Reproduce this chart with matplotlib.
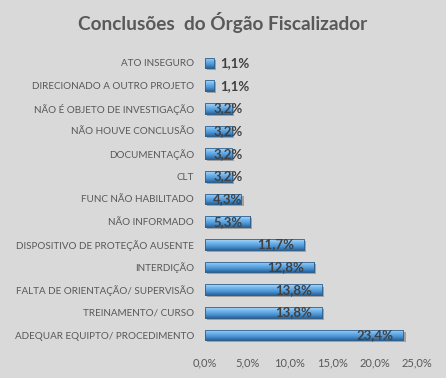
import numpy as np
import matplotlib.pyplot as plt
from matplotlib.colors import LinearSegmentedColormap

categories = ['ATO INSEGURO', 'DIRECIONADO A OUTRO PROJETO', 'NÃO É OBJETO DE INVESTIGAÇÃO',
              'NÃO HOUVE CONCLUSÃO', 'DOCUMENTAÇÃO', 'CLT', 'FUNC NÃO HABILITADO',
              'NÃO INFORMADO', 'DISPOSITIVO DE PROTEÇÃO AUSENTE', 'INTERDIÇÃO',
              'FALTA DE ORIENTAÇÃO/ SUPERVISÃO', 'TREINAMENTO/ CURSO',
              'ADEQUAR EQUIPTO/ PROCEDIMENTO']
values = [1.1, 1.1, 3.2, 3.2, 3.2, 3.2, 4.3, 5.3, 11.7, 12.8, 13.8, 13.8, 23.4]
xticks = [0, 5, 10, 15, 20, 25]

bg = '#d9d9d9'
txt = '#595959'
plt.rcParams['font.family'] = ['Lato', 'DejaVu Sans']

fig = plt.figure(figsize=(4.46, 3.78), dpi=100, facecolor=bg)
ax = fig.add_axes([205 / 446, 0.0837, (417 - 205) / 446, 0.8634 - 0.0837])
ax.set_facecolor(bg)

cmap = LinearSegmentedColormap.from_list('bar', ['#b0d8f7', '#74b7ec', '#4d95d5', '#2c669c'])
grad = np.linspace(0, 1, 64).reshape(-1, 1)

y = np.arange(len(categories))
h = 0.46
# shadow
ax.barh(y + 0.09, values, height=h, left=0.25, color='#a0a0a0', zorder=1)
bars = ax.barh(y, values, height=h, color='#5b9bd5', edgecolor='#2f5f8a', linewidth=0.6, zorder=2)
for b in bars:
    x0, y0 = b.get_x(), b.get_y()
    im = ax.imshow(grad, cmap=cmap, aspect='auto', zorder=3,
                   extent=(x0, x0 + b.get_width(), y0 + b.get_height(), y0))
    im.set_clip_path(b)
    ax.barh(b.get_y() + b.get_height() / 2, b.get_width(), height=h, fill=False,
            edgecolor='#2f5f8a', linewidth=0.6, zorder=4)

for yi, v in zip(y, values):
    lab = f'{v:.1f}%'.replace('.', ',')
    if v < 2:
        ax.annotate(lab, (v, yi), xytext=(4, 0), textcoords='offset points',
                    ha='left', va='center', fontsize=9.5, fontweight='bold', color='#404040', zorder=5)
    elif v * 8.48 - 9 < 38:
        ax.annotate(lab, (0, yi), xytext=(6, 0), textcoords='offset points',
                    ha='left', va='center', fontsize=9.5, fontweight='bold', color='#404040', zorder=5)
    else:
        ax.annotate(lab, (v, yi), xytext=(-7, 0), textcoords='offset points',
                    ha='right', va='center', fontsize=9.5, fontweight='bold', color='#404040', zorder=5)

ax.set_xlim(0, 25)
ax.set_ylim(len(categories) - 0.5, -0.5)
ax.set_yticks(y)
ax.set_yticklabels(categories, fontsize=7.1, color=txt)
ax.set_xticks(xticks)
ax.set_xticklabels([f'{t:.1f}%'.replace('.', ',') for t in xticks], fontsize=8, color=txt)
ax.tick_params(length=0)
ax.tick_params(axis='x', pad=8)
ax.tick_params(axis='y', pad=8)
for s in ax.spines.values():
    s.set_visible(False)

fig.text(0.5, 0.94, 'Conclusões  do Órgão Fiscalizador', ha='center', va='center',
         fontsize=13.7, fontweight='bold', color=txt)

fig.savefig('out.png', dpi=100, facecolor=bg)
